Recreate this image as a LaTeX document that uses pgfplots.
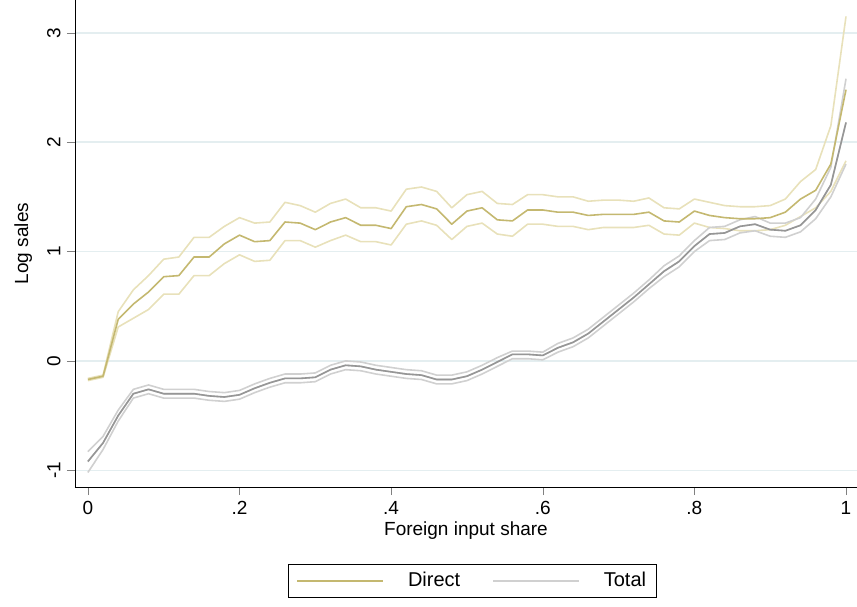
\documentclass[border=0pt]{standalone}
\usepackage{pgfplots}
\pgfplotsset{compat=1.18}
\usepackage{fontspec}
\setmainfont{Liberation Sans}
\definecolor{dmain}{RGB}{196,184,112}
\definecolor{dband}{RGB}{232,225,186}
\definecolor{tmain}{RGB}{150,150,150}
\definecolor{tband}{RGB}{208,208,208}
\definecolor{gridc}{RGB}{228,238,240}
\begin{document}
\fontsize{19}{22}\selectfont
\begin{tikzpicture}
\begin{axis}[scale only axis, width=782pt, height=487pt,
  xmin=-0.017, xmax=1.0145, ymin=-1.153, ymax=3.30,
  axis x line*=bottom, axis y line*=left,
  tick align=outside, major tick length=8pt,
  xtick={0,0.2,0.4,0.6,0.8,1}, xticklabels={0,.2,.4,.6,.8,1},
  ytick={-1,0,1,2,3},
  yticklabel style={rotate=90, anchor=south},
  xmajorgrids=false, ymajorgrids=true, major grid style={draw=gridc, line width=1.4pt},
  xlabel={Foreign input share}, ylabel={Log sales},
  xlabel style={yshift=6pt}, ylabel style={yshift=2pt},
  label style={font=\fontsize{19}{22}\selectfont},
  tick label style={font=\fontsize{19}{22}\selectfont},
  /pgf/number format/assume math mode=true,
  legend style={at={(axis description cs:0.508,-0.193)}, anchor=center, legend columns=2,
    draw=black, font=\fontsize{20}{23}\selectfont, inner xsep=8pt, inner ysep=6pt,
    /tikz/every odd column/.append style={column sep=22pt},
    /tikz/every even column/.append style={column sep=30pt}},
  legend image code/.code={\draw[#1] (0pt,0pt) -- (86pt,0pt);},
  legend cell align=left,
  every axis plot/.append style={line width=1.6pt, line join=round},
]
% Direct bands
\addplot[dband, forget plot] coordinates {(0,-0.16)(0.02,-0.13)(0.04,0.45)(0.06,0.65)(0.08,0.78)(0.10,0.93)(0.12,0.95)(0.14,1.13)(0.16,1.13)(0.18,1.23)(0.20,1.31)(0.22,1.26)(0.24,1.27)(0.26,1.45)(0.28,1.42)(0.30,1.36)(0.32,1.44)(0.34,1.48)(0.36,1.40)(0.38,1.40)(0.40,1.37)(0.42,1.57)(0.44,1.59)(0.46,1.55)(0.48,1.40)(0.50,1.52)(0.52,1.55)(0.54,1.44)(0.56,1.43)(0.58,1.52)(0.60,1.52)(0.62,1.50)(0.64,1.50)(0.66,1.46)(0.68,1.47)(0.70,1.47)(0.72,1.46)(0.74,1.49)(0.76,1.40)(0.78,1.39)(0.80,1.48)(0.82,1.45)(0.84,1.42)(0.86,1.41)(0.88,1.41)(0.90,1.42)(0.92,1.48)(0.94,1.64)(0.96,1.75)(0.98,2.15)(1.0,3.15)};
\addplot[dband, forget plot] coordinates {(0,-0.18)(0.02,-0.15)(0.04,0.31)(0.06,0.39)(0.08,0.47)(0.10,0.61)(0.12,0.61)(0.14,0.78)(0.16,0.78)(0.18,0.89)(0.20,0.97)(0.22,0.91)(0.24,0.92)(0.26,1.10)(0.28,1.10)(0.30,1.04)(0.32,1.10)(0.34,1.15)(0.36,1.09)(0.38,1.09)(0.40,1.06)(0.42,1.25)(0.44,1.28)(0.46,1.24)(0.48,1.11)(0.50,1.23)(0.52,1.26)(0.54,1.16)(0.56,1.14)(0.58,1.25)(0.60,1.25)(0.62,1.23)(0.64,1.23)(0.66,1.20)(0.68,1.22)(0.70,1.22)(0.72,1.22)(0.74,1.24)(0.76,1.16)(0.78,1.15)(0.80,1.26)(0.82,1.22)(0.84,1.21)(0.86,1.19)(0.88,1.19)(0.90,1.20)(0.92,1.24)(0.94,1.32)(0.96,1.40)(0.98,1.55)(1.0,1.83)};
% Total bands
\addplot[tband, forget plot] coordinates {(0,-0.83)(0.02,-0.69)(0.04,-0.45)(0.06,-0.26)(0.08,-0.22)(0.10,-0.26)(0.12,-0.26)(0.14,-0.26)(0.16,-0.28)(0.18,-0.29)(0.20,-0.27)(0.22,-0.21)(0.24,-0.16)(0.26,-0.12)(0.28,-0.12)(0.30,-0.11)(0.32,-0.04)(0.34,0.00)(0.36,-0.01)(0.38,-0.04)(0.40,-0.06)(0.42,-0.08)(0.44,-0.09)(0.46,-0.13)(0.48,-0.13)(0.50,-0.10)(0.52,-0.04)(0.54,0.03)(0.56,0.09)(0.58,0.09)(0.60,0.08)(0.62,0.16)(0.64,0.21)(0.66,0.29)(0.68,0.40)(0.70,0.51)(0.72,0.62)(0.74,0.74)(0.76,0.87)(0.78,0.96)(0.80,1.10)(0.82,1.22)(0.84,1.23)(0.86,1.29)(0.88,1.32)(0.90,1.26)(0.92,1.26)(0.94,1.31)(0.96,1.48)(0.98,1.77)(1.0,2.58)};
\addplot[tband, forget plot] coordinates {(0,-1.02)(0.02,-0.81)(0.04,-0.55)(0.06,-0.34)(0.08,-0.30)(0.10,-0.34)(0.12,-0.34)(0.14,-0.34)(0.16,-0.36)(0.18,-0.37)(0.20,-0.35)(0.22,-0.29)(0.24,-0.24)(0.26,-0.20)(0.28,-0.20)(0.30,-0.19)(0.32,-0.12)(0.34,-0.08)(0.36,-0.09)(0.38,-0.12)(0.40,-0.14)(0.42,-0.16)(0.44,-0.17)(0.46,-0.21)(0.48,-0.21)(0.50,-0.18)(0.52,-0.12)(0.54,-0.05)(0.56,0.02)(0.58,0.02)(0.60,0.01)(0.62,0.08)(0.64,0.13)(0.66,0.21)(0.68,0.32)(0.70,0.43)(0.72,0.54)(0.74,0.66)(0.76,0.77)(0.78,0.86)(0.80,1.00)(0.82,1.10)(0.84,1.11)(0.86,1.17)(0.88,1.19)(0.90,1.14)(0.92,1.13)(0.94,1.18)(0.96,1.30)(0.98,1.50)(1.0,1.80)};
% Main lines
\addplot[dmain] coordinates {(0,-0.17)(0.02,-0.14)(0.04,0.38)(0.06,0.52)(0.08,0.63)(0.10,0.77)(0.12,0.78)(0.14,0.95)(0.16,0.95)(0.18,1.07)(0.20,1.15)(0.22,1.09)(0.24,1.10)(0.26,1.27)(0.28,1.26)(0.30,1.20)(0.32,1.27)(0.34,1.31)(0.36,1.24)(0.38,1.24)(0.40,1.21)(0.42,1.41)(0.44,1.43)(0.46,1.39)(0.48,1.25)(0.50,1.37)(0.52,1.40)(0.54,1.29)(0.56,1.28)(0.58,1.38)(0.60,1.38)(0.62,1.36)(0.64,1.36)(0.66,1.33)(0.68,1.34)(0.70,1.34)(0.72,1.34)(0.74,1.36)(0.76,1.28)(0.78,1.27)(0.80,1.37)(0.82,1.33)(0.84,1.31)(0.86,1.30)(0.88,1.30)(0.90,1.31)(0.92,1.36)(0.94,1.48)(0.96,1.56)(0.98,1.80)(1.0,2.48)};
\addlegendentry{Direct}
\addplot[tband] coordinates {(0,-0.92)(0.02,-0.75)(0.04,-0.50)(0.06,-0.30)(0.08,-0.26)(0.10,-0.30)(0.12,-0.30)(0.14,-0.30)(0.16,-0.32)(0.18,-0.33)(0.20,-0.31)(0.22,-0.25)(0.24,-0.20)(0.26,-0.16)(0.28,-0.16)(0.30,-0.15)(0.32,-0.08)(0.34,-0.04)(0.36,-0.05)(0.38,-0.08)(0.40,-0.10)(0.42,-0.12)(0.44,-0.13)(0.46,-0.17)(0.48,-0.17)(0.50,-0.14)(0.52,-0.08)(0.54,-0.01)(0.56,0.06)(0.58,0.06)(0.60,0.05)(0.62,0.12)(0.64,0.17)(0.66,0.25)(0.68,0.36)(0.70,0.47)(0.72,0.58)(0.74,0.70)(0.76,0.82)(0.78,0.91)(0.80,1.05)(0.82,1.16)(0.84,1.17)(0.86,1.23)(0.88,1.25)(0.90,1.20)(0.92,1.19)(0.94,1.24)(0.96,1.38)(0.98,1.61)(1.0,2.18)};
\addlegendentry{Total}
\addplot[tmain, forget plot] coordinates {(0,-0.92)(0.02,-0.75)(0.04,-0.50)(0.06,-0.30)(0.08,-0.26)(0.10,-0.30)(0.12,-0.30)(0.14,-0.30)(0.16,-0.32)(0.18,-0.33)(0.20,-0.31)(0.22,-0.25)(0.24,-0.20)(0.26,-0.16)(0.28,-0.16)(0.30,-0.15)(0.32,-0.08)(0.34,-0.04)(0.36,-0.05)(0.38,-0.08)(0.40,-0.10)(0.42,-0.12)(0.44,-0.13)(0.46,-0.17)(0.48,-0.17)(0.50,-0.14)(0.52,-0.08)(0.54,-0.01)(0.56,0.06)(0.58,0.06)(0.60,0.05)(0.62,0.12)(0.64,0.17)(0.66,0.25)(0.68,0.36)(0.70,0.47)(0.72,0.58)(0.74,0.70)(0.76,0.82)(0.78,0.91)(0.80,1.05)(0.82,1.16)(0.84,1.17)(0.86,1.23)(0.88,1.25)(0.90,1.20)(0.92,1.19)(0.94,1.24)(0.96,1.38)(0.98,1.61)(1.0,2.18)};
\end{axis}
\pgfresetboundingbox
\path (-75pt,-119pt) rectangle (782pt,487pt);
\end{tikzpicture}
\end{document}
